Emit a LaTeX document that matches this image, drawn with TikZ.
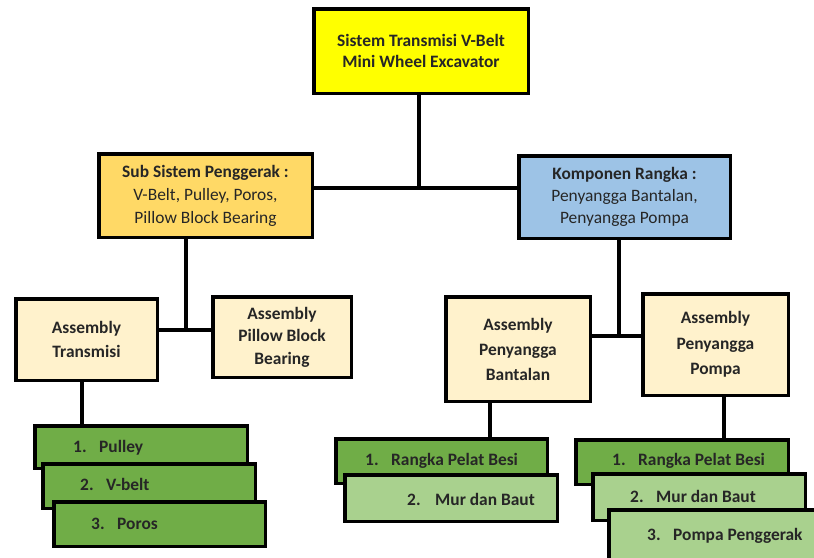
\documentclass[tikz,border=0pt]{standalone}
\usepackage{fontspec}
\setmainfont{Carlito}
\definecolor{cYellow}{HTML}{FFFF00}
\definecolor{cGold}{HTML}{FFD966}
\definecolor{cBlue}{HTML}{9DC3E6}
\definecolor{cCream}{HTML}{FFF2CC}
\definecolor{cGreen}{HTML}{70AD47}
\definecolor{cLight}{HTML}{A9D18E}
\definecolor{cText}{HTML}{262626}
\begin{document}
\begin{tikzpicture}[x=1pt,y=-1pt,
  box/.style={draw=black, line width=3.5pt, inner sep=0pt, align=center,
    font=\fontsize{17.4}{21}\selectfont\bfseries, text=cText},
  listbox/.style={draw=black, line width=3.5pt, inner sep=0pt},
  listtext/.style={anchor=base west, inner sep=0pt,
    font=\fontsize{17.4}{21}\selectfont\bfseries, text=cText},
  conn/.style={line width=4pt}]
\clip (0,0) rectangle (814,557);
\fill[white] (0,0) rectangle (814,557);
% level boxes
\node[box, fill=cYellow, minimum width=214.5pt, minimum height=84.5pt] (top) at (421,51)
  {Sistem Transmisi V-Belt\\Mini Wheel Excavator};
\node[box, fill=cGold, minimum width=213.5pt, minimum height=83.5pt,
  font=\fontsize{17.4}{23}\selectfont\bfseries] (lm) at (205.5,195.5)
  {Sub Sistem Penggerak :\\\mdseries V-Belt, Pulley, Poros,\\\mdseries Pillow Block Bearing};
\node[box, fill=cBlue, minimum width=211.5pt, minimum height=82.5pt,
  font=\fontsize{17.4}{22}\selectfont\bfseries] (rm) at (624.5,197)
  {Komponen Rangka :\\\mdseries Penyangga Bantalan,\\\mdseries Penyangga Pompa};
\node[box, fill=cCream, minimum width=141.5pt, minimum height=81.5pt,
  font=\fontsize{17.4}{24}\selectfont\bfseries] (at) at (86.5,339.5)
  {Assembly\\Transmisi};
\node[box, fill=cCream, minimum width=138.5pt, minimum height=80.5pt,
  font=\fontsize{17.4}{22.5}\selectfont\bfseries] (pb) at (282,337)
  {Assembly\\Pillow Block\\Bearing};
\node[box, fill=cCream, minimum width=144.5pt, minimum height=104.5pt,
  font=\fontsize{17.4}{25}\selectfont\bfseries] (ab) at (518,349)
  {Assembly\\Penyangga\\Bantalan};
\node[box, fill=cCream, minimum width=145.5pt, minimum height=101.5pt,
  font=\fontsize{17.4}{25.5}\selectfont\bfseries] (ap) at (715.5,344.5)
  {Assembly\\Penyangga\\Pompa};
% list boxes
\node[listbox, fill=cGreen, minimum width=212.5pt, minimum height=42.5pt] (l1) at (141,447) {};
\node[listtext] (l1t) at (73,452) {\makebox[26pt][l]{1.}Pulley};
\node[listbox, fill=cGreen, minimum width=212.5pt, minimum height=44.5pt] (l2) at (149,486) {};
\node[listtext] (l2t) at (80,490) {\makebox[26pt][l]{2.}V-belt};
\node[listbox, fill=cGreen, minimum width=211.5pt, minimum height=44.5pt] (l3) at (159.5,524) {};
\node[listtext] (l3t) at (91,529) {\makebox[26pt][l]{3.}Poros};
\node[listbox, fill=cGreen, minimum width=211.5pt, minimum height=44.5pt] (m1) at (441.5,461) {};
\node[listtext] (m1t) at (365,465) {\makebox[26pt][l]{1.}Rangka Pelat Besi};
\node[listbox, fill=cLight, minimum width=212.5pt, minimum height=46.5pt] (m2) at (451,498) {};
\node[listtext] (m2t) at (407,505) {\makebox[28pt][l]{2.}Mur dan Baut};
\node[listbox, fill=cGreen, minimum width=212.5pt, minimum height=44.5pt] (r1) at (682,462) {};
\node[listtext] (r1t) at (612,465) {\makebox[26pt][l]{1.}Rangka Pelat Besi};
\node[listbox, fill=cLight, minimum width=212.5pt, minimum height=46.5pt] (r2) at (699,497) {};
\node[listtext] (r2t) at (630,502) {\makebox[26pt][l]{2.}Mur dan Baut};
\node[listbox, fill=cLight, minimum width=221pt, minimum height=70pt] (r3) at (719.5,545) {};
\node[listtext] (r3t) at (647,540) {\makebox[26pt][l]{3.}Pompa Penggerak};
% connectors
\coordinate (j1) at (419,188);
\coordinate (j2) at (186,330);
\coordinate (j3) at (619,336);
\coordinate (c4) at (82,400);
\coordinate (c5) at (490,420);
\coordinate (c6) at (724,420);
\draw[conn] (top.south -| j1) -- (j1);
\draw[conn] (lm.east |- j1) -- (rm.west |- j1);
\draw[conn] (lm.south -| j2) -- (j2);
\draw[conn] (at.east |- j2) -- (pb.west |- j2);
\draw[conn] (rm.south -| j3) -- (j3);
\draw[conn] (ab.east |- j3) -- (ap.west |- j3);
\draw[conn] (at.south -| c4) -- (l1.north -| c4);
\draw[conn] (ab.south -| c5) -- (m1.north -| c5);
\draw[conn] (ap.south -| c6) -- (r1.north -| c6);
\end{tikzpicture}
\end{document}
